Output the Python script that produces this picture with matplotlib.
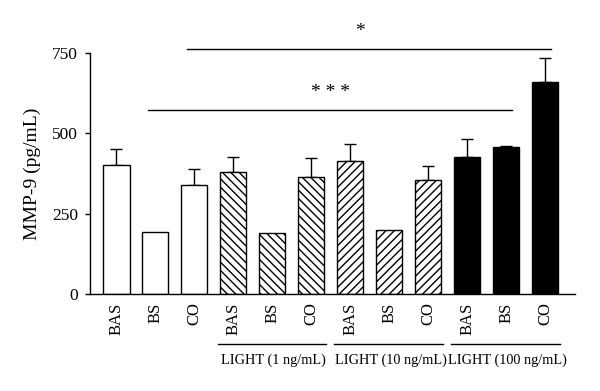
import numpy as np
import matplotlib
matplotlib.use("Agg")
import matplotlib.pyplot as plt

plt.rcParams["font.family"] = ["Liberation Serif", "DejaVu Serif"]
plt.rcParams["hatch.linewidth"] = 1.0

# data
treatments = ["BAS", "BS", "CO"] * 4
groups = ["", "LIGHT (1 ng/mL)", "LIGHT (10 ng/mL)", "LIGHT (100 ng/mL)"]
means = [400, 194, 340, 380, 190, 365, 414, 200, 354, 425, 457, 658]
sem = [51, 0, 49, 47, 0, 58, 51, 0, 45, 56, 2, 75]
group_hatch = ["", "\\\\\\\\", "////", ""]
group_fill = ["white", "white", "white", "black"]
yticks = [0, 250, 500, 750]

# significance brackets: (start bar, end bar, level, label)
sig_lines = [(1, 10, 571, "* * *"), (2, 11, 760, "*")]

fig = plt.figure(figsize=(6, 3.91), dpi=100)
ax = fig.add_axes([0.15, 97 / 391, 485 / 600, (294.3 - 53) / 391])

x = np.arange(len(means))
width = 0.67
for i in range(len(means)):
    g = i // 3
    ax.bar(x[i], means[i], width, color=group_fill[g], edgecolor="black",
           linewidth=1.0, hatch=group_hatch[g], zorder=2)
    if sem[i] > 0:
        ax.errorbar(x[i], means[i], yerr=[[0], [sem[i]]], fmt="none",
                    ecolor="black", elinewidth=1.0, capsize=4.4,
                    capthick=1.0, zorder=1)

ax.set_xlim(-0.68, 11.77)
ax.set_ylim(0, 750)
ax.set_yticks(yticks)
ax.set_yticklabels([str(t) for t in yticks], fontsize=12.5)
ax.set_xticks(x)
ax.set_xticklabels(treatments, rotation=90, fontsize=12)
ax.tick_params(axis="x", length=0, pad=6)
ax.tick_params(axis="y", length=3.6, width=1.0, pad=5)
ax.set_ylabel("MMP-9 (pg/mL)", fontsize=14, labelpad=8)

for s in ["top", "right"]:
    ax.spines[s].set_visible(False)
for s in ["left", "bottom"]:
    ax.spines[s].set_linewidth(1.0)

# significance lines
for a, b, lvl, lab in sig_lines:
    ax.plot([x[a] - 0.18, x[b] + 0.15], [lvl, lvl], color="black",
            linewidth=1.0, clip_on=False)
    ax.text((x[a] + x[b]) / 2 + (-0.24 if lab == "*" else 0.0), lvl + 28, lab,
            ha="center", va="bottom", fontsize=14, clip_on=False)

# group lines and labels below the axis
trans = ax.get_xaxis_transform()
for g in range(1, 4):
    left = x[3 * g] - width / 2 - 0.07
    right = x[3 * g + 2] + width / 2 + 0.05
    ax.plot([left, right], [-0.206, -0.206], color="black", linewidth=1.0,
            transform=trans, clip_on=False)
    ax.text((left + right) / 2 + 0.05, -0.245, groups[g], transform=trans,
            ha="center", va="top", fontsize=10.3)

fig.savefig("out.png", dpi=100)
